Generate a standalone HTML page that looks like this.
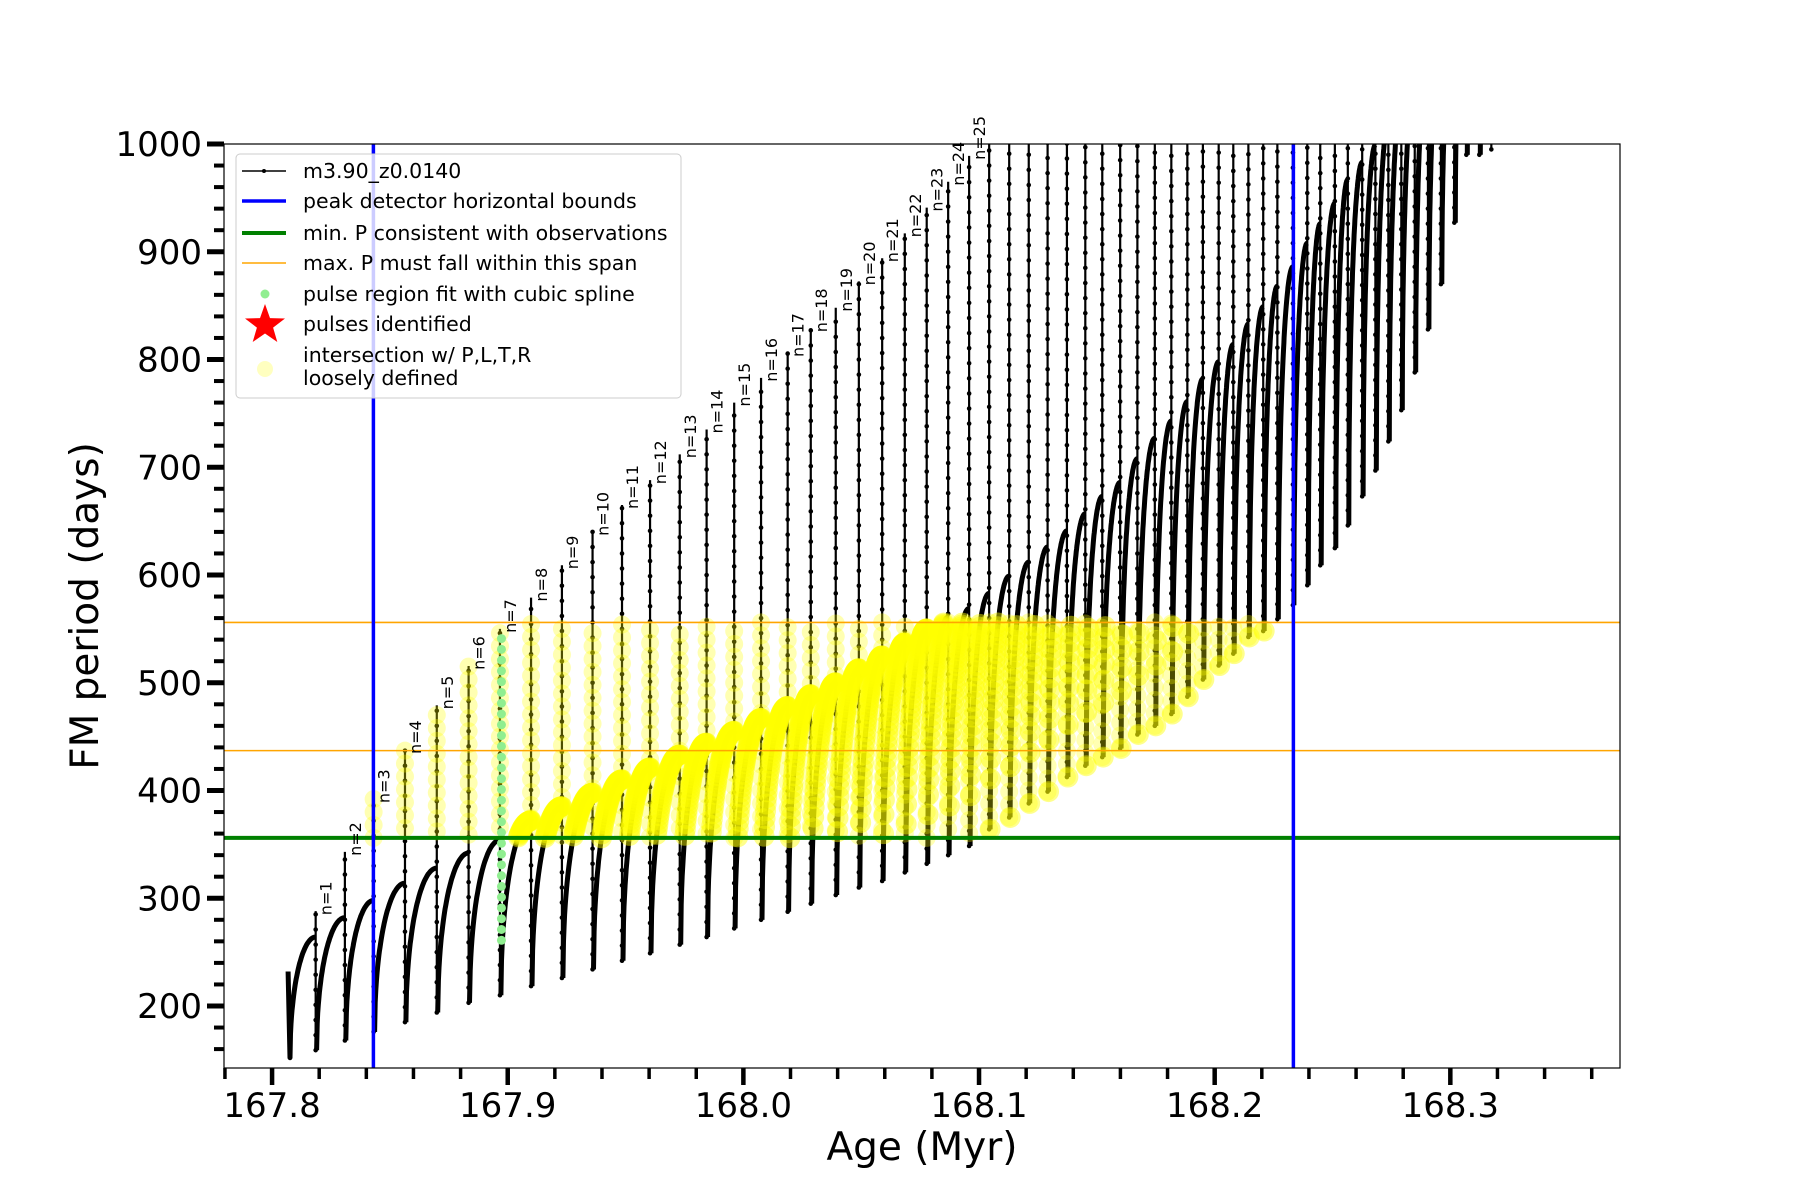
<!DOCTYPE html>
<html><head><meta charset="utf-8"><style>
html,body{margin:0;padding:0;background:#fff;}
svg{display:block;font-family:"DejaVu Sans","Liberation Sans",sans-serif;}
</style></head><body>
<svg id="chart" width="1800" height="1200" viewBox="0 0 1800 1200" xmlns="http://www.w3.org/2000/svg">
<defs><clipPath id="plotclip"><rect x="224" y="144" width="1396" height="924"/></clipPath></defs>
<rect x="0" y="0" width="1800" height="1200" fill="#fff"/>
<g id="marks" clip-path="url(#plotclip)"></g>
<g id="axes"></g>
<g id="legend"></g>
</svg>
<script>
const startAge = 167.8068;
const startValue = 232;
const startTrough = 152;
const pulseAges = [167.8185,167.8309,167.8431,167.8564,167.8699,167.8834,167.8967,167.9099,167.9230,167.9360,167.9485,167.9604,167.9730,167.9844,167.9961,168.0075,168.0188,168.0286,168.0392,168.0490,168.0589,168.0685,168.0778,168.0869,168.0958,168.1043,168.1128,168.1211,168.1291,168.1373,168.1451,168.1523,168.1599,168.1672,168.1746,168.1816,168.1884,168.1950,168.2017,168.2079,168.2143,168.2206,168.2266,168.2332,168.2393,168.2448,168.2510,168.2565,168.2626,168.2682,168.2737,168.2792,168.2849,168.2905,168.2960,168.3017,168.3068,168.3123,168.3174];
const spikePeaks = [288,343,392,437.6,479,515.6,550,579,609,640,665,688,712,735,760,783,806,829,848,872.5,894,917,941,965,989,1100,1100,1100,1100,1100,1100,1100,1100,1100,1100,1100,1100,1100,1100,1100,1100,1100,1100,1100,1100,1100,1100,1100,1100,1100,1100,1100,1100,1100,1100,1100,1100,1100,1100];
const troughs = [159,168,176,185,194,203,210,218.5,226,234,242,249,257,264,272,280,287.5,295,303,310,316,324,332,340,348.5,364,375,388,399,412.5,423,431,439,452,460,471,487,503,516,527,542.5,548,559,572,590.5,609,625,646,673,697,724,753,788,828,870,927,990,990,995];
const plateaus = [264,282,298,314,328,342,354,372,385,397.6,410,421,433,444,455,467,478,489,500,513,525,537,550,561,569,583,599,612,626,641,657,673,686,708,727,743,761,782,798,814,833,849,868,886,908,926,945,967,983,999,1020,1040,1060,1080,1100,1120,1140,1160,1180];
const blueBounds = [167.843, 168.2334];
const minP = 356;
const maxSpan = [437, 556];
const splineLo = 261, splineHi = 549, splinePulse = 6;
const xTicks = [167.8,167.9,168.0,168.1,168.2,168.3];
const xTickLabels = ["167.8","167.9","168.0","168.1","168.2","168.3"];
const yTicks = [200,300,400,500,600,700,800,900,1000];
const yTickLabels = ["200","300","400","500","600","700","800","900","1000"];

const NS = "http://www.w3.org/2000/svg";
const X0 = 167.7796, X1 = 168.372, PX0 = 224, PX1 = 1620;
const PY_TOP = 144, PY_BOT = 1068;
function xs(a){ return PX0 + (a - X0) * (PX1 - PX0) / (X1 - X0); }
function ys(v){ return 1006 - (v - 200) * 1.0775; }
function el(tag, attrs, parent){ const e = document.createElementNS(NS, tag); for (const k in attrs) e.setAttribute(k, attrs[k]); parent.appendChild(e); return e; }
const marks = document.getElementById('marks');
const axes = document.getElementById('axes');
const legend = document.getElementById('legend');

function arcPts(t0, v0, t1, v1, n){
  const pts = [];
  for (let i = 0; i <= n; i++){ const u = i / n; const f = Math.sqrt(1 - (1-u)*(1-u)); pts.push([t0 + (t1-t0)*u, v0 + (v1-v0)*f]); }
  return pts;
}
const arcs = [];
arcs.push([[startAge, startValue]].concat(arcPts(startAge + 0.0008, startTrough, pulseAges[0], plateaus[0], 50)));
for (let k = 0; k < pulseAges.length - 1; k++){
  arcs.push(arcPts(pulseAges[k] + 0.0004, troughs[k], pulseAges[k+1], plateaus[k+1], 50));
}
const gBlack = el('g', {}, marks);


arcs.forEach(pts => {
  const p = el('polyline', {points: pts.map(q => xs(q[0]).toFixed(1)+','+ys(q[1]).toFixed(1)).join(' '), fill:'none', stroke:'#000', 'stroke-width':5, 'stroke-linejoin':'round'}, gBlack);
  
  
});
for (let k = 0; k < pulseAges.length; k++){
  const x = xs(pulseAges[k]);
  const top = Math.max(spikePeaks[k], plateaus[k]);
  const s = el('line', {x1:x, x2:x, y1:ys(top), y2:ys(troughs[k]), stroke:'#000', 'stroke-width':2.2}, gBlack);
  
  
  for (let v = troughs[k]; v <= Math.min(top, 1010); v += 14){
    el('circle', {cx:x, cy:ys(v), r:2.3, fill:'#000'}, gBlack);
  }
}
const hl = (v, color, w, name) => { const l = el('line', {x1:PX0, x2:PX1, y1:ys(v), y2:ys(v), stroke:color, 'stroke-width':w}, marks);   };
const gY = el('g', {fill:'#ffff00'}, marks);


function inWin(a, v){ return a >= blueBounds[0] - 0.0006 && a <= blueBounds[1] + 0.0004 && v >= minP && v <= maxSpan[1]; }
arcs.forEach(pts => pts.forEach(q => { if (inWin(q[0], q[1])) el('circle', {cx:xs(q[0]), cy:ys(q[1]), r:10.5, 'fill-opacity':0.45}, gY); }));
for (let k = 0; k < pulseAges.length; k++){
  const top = Math.max(spikePeaks[k], plateaus[k]);
  for (let v = troughs[k]; v <= top; v += 12){ if (inWin(pulseAges[k], v)) el('circle', {cx:xs(pulseAges[k]), cy:ys(v), r:9, 'fill-opacity':0.3}, gY); }
}
const gG = el('g', {fill:'#90ee90'}, marks);


for (let v = splineLo; v <= splineHi; v += 10){ el('circle', {cx:xs(pulseAges[splinePulse]) + 1.5, cy:ys(v), r:4.5}, gG); }
hl(maxSpan[0], '#ffa500', 1.6, 'max-period-lower-line');
hl(maxSpan[1], '#ffa500', 1.6, 'max-period-upper-line');
hl(minP, '#008000', 4, 'min-period-line');
blueBounds.forEach((b, i) => { const l = el('line', {x1:xs(b), x2:xs(b), y1:PY_TOP, y2:PY_BOT, stroke:'#0000ff', 'stroke-width':3.5}, marks);   });
for (let k = 0; k < 25; k++){
  const x = xs(pulseAges[k]) + 16, y = ys(Math.min(spikePeaks[k], 1000)) + 4;
  const t = el('text', {transform:`translate(${x.toFixed(1)},${y.toFixed(1)}) rotate(-90)`, 'font-size':16, fill:'#000'}, axes);
  t.textContent = 'n=' + (k + 1);
  
  
}
el('rect', {x:PX0, y:PY_TOP, width:PX1-PX0, height:PY_BOT-PY_TOP, fill:'none', stroke:'#000', 'stroke-width':1.2}, axes);
for (let v = 160; v <= 1000; v += 20){
  const major = v % 100 === 0;
  el('line', {x1:PX0 - (major?17:10), x2:PX0, y1:ys(v), y2:ys(v), stroke:'#000', 'stroke-width': major?5:4}, axes);
}
yTicks.forEach((v, i) => { const t = el('text', {x:202, y:ys(v) + 12, 'text-anchor':'end', 'font-size':34}, axes); t.textContent = yTickLabels[i];   });
for (let i = 0; i <= 29; i++){
  const a = 167.78 + i * 0.02; const x = xs(a); if (x > PX1 + 1) break;
  const major = Math.abs(Math.round(a*10) - a*10) < 1e-6;
  el('line', {x1:x, x2:x, y1:PY_BOT, y2:PY_BOT + (major?17:11), stroke:'#000', 'stroke-width': major?4.5:3.5}, axes);
}
xTicks.forEach((a, i) => { const t = el('text', {x:xs(a), y:1117, 'text-anchor':'middle', 'font-size':34}, axes); t.textContent = xTickLabels[i];   });
const xl = el('text', {x:922, y:1160, 'text-anchor':'middle', 'font-size':39}, axes); xl.textContent = 'Age (Myr)';


const yl = el('text', {transform:'translate(98,606) rotate(-90)', 'text-anchor':'middle', 'font-size':39}, axes); yl.textContent = 'FM period (days)';


el('rect', {x:236, y:154, width:445, height:244, rx:4, fill:'#fff', 'fill-opacity':0.8, stroke:'#cccccc', 'stroke-width':1}, legend);
const items = [
  ['m3.90_z0.0140', 171], ['peak detector horizontal bounds', 201], ['min. P consistent with observations', 233],
  ['max. P must fall within this span', 263], ['pulse region fit with cubic spline', 294], ['pulses identified', 324]
];
items.forEach(it => { const t = el('text', {x:303, y:it[1] + 7, 'font-size':20.5}, legend); t.textContent = it[0];   });
const t7 = el('text', {x:303, y:362, 'font-size':20.5}, legend); t7.textContent = 'intersection w/ P,L,T,R';


const t8 = el('text', {x:303, y:385, 'font-size':20.5}, legend); t8.textContent = 'loosely defined';


el('line', {x1:242, x2:286, y1:171, y2:171, stroke:'#000', 'stroke-width':1.6}, legend);
el('circle', {cx:264, cy:171, r:2, fill:'#000'}, legend);
el('line', {x1:242, x2:286, y1:201, y2:201, stroke:'#0000ff', 'stroke-width':3.5}, legend);
el('line', {x1:242, x2:286, y1:233, y2:233, stroke:'#008000', 'stroke-width':4}, legend);
el('line', {x1:242, x2:286, y1:263, y2:263, stroke:'#ffa500', 'stroke-width':1.6}, legend);
el('circle', {cx:265, cy:294, r:4.5, fill:'#90ee90'}, legend);
(function(){ const cx=265, cy=325, R=21, r=8.5; let p=[]; for(let i=0;i<10;i++){ const ang=-Math.PI/2 + i*Math.PI/5; const rr = i%2?r:R; p.push((cx+rr*Math.cos(ang)).toFixed(1)+','+(cy+rr*Math.sin(ang)).toFixed(1)); } el('polygon', {points:p.join(' '), fill:'#ff0000'}, legend); })();
el('circle', {cx:265, cy:369, r:8, fill:'#ffffc0'}, legend);
</script>
</body></html>
